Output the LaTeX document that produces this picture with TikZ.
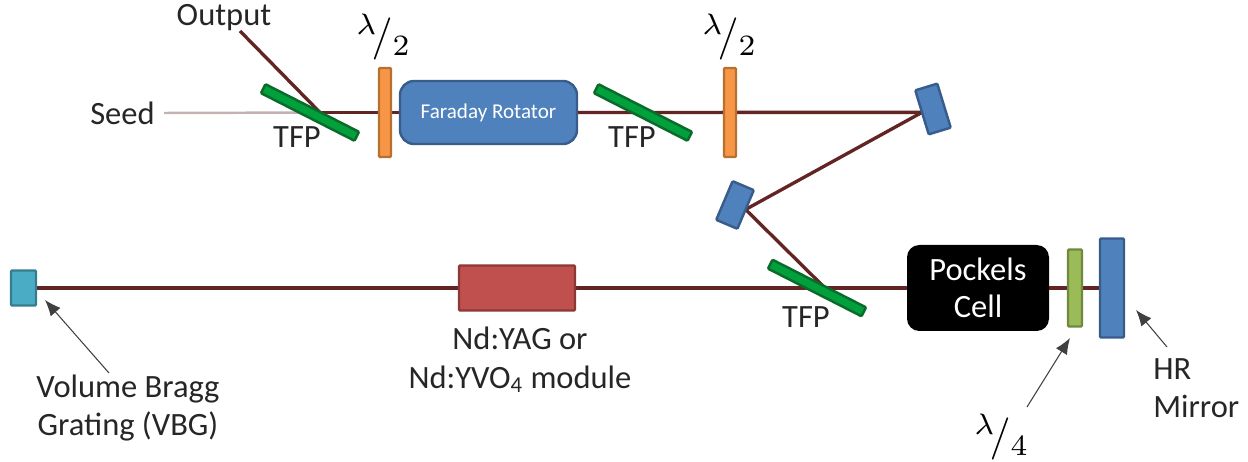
\documentclass[tikz,border=0pt]{standalone}
\usepackage{amsmath}
\usepackage{fontspec}
\setmainfont{Carlito}
\usetikzlibrary{positioning}
\usetikzlibrary{arrows.meta}
\usetikzlibrary{backgrounds}

\definecolor{beamred}{HTML}{632523}
\definecolor{seedgrey}{HTML}{C4B2B2}
\definecolor{arrowgrey}{HTML}{404040}
\definecolor{tfpfill}{HTML}{00A03C}
\definecolor{tfpline}{HTML}{0B6B2A}
\definecolor{halffill}{HTML}{F79646}
\definecolor{halfline}{HTML}{B7702F}
\definecolor{bluefill}{HTML}{4F81BD}
\definecolor{blueline}{HTML}{385D8A}
\definecolor{quartfill}{HTML}{9BBB59}
\definecolor{quartline}{HTML}{71893F}
\definecolor{yagfill}{HTML}{C0504D}
\definecolor{yagline}{HTML}{8C3836}
\definecolor{vbgfill}{HTML}{4BACC6}
\definecolor{vbgline}{HTML}{357D91}

\tikzset{
    optic/.style={draw, line width=1.4pt, inner sep=0pt, outer sep=0pt, rounded corners=0.6pt},
    tfpplate/.style={optic, draw=tfpline, fill=tfpfill, minimum width=2.1cm, minimum height=0.2cm},
    halfplate/.style={optic, draw=halfline, fill=halffill, minimum width=0.24cm, minimum height=1.78cm},
    bluemirror/.style={optic, draw=blueline, fill=bluefill},
    beam/.style={draw=beamred, line width=1.9pt},
    pointer/.style={draw=arrowgrey, line width=0.6pt, -{Latex[length=3.2mm,width=2.6mm]}},
    lbl/.style={font=\fontsize{18.5}{22}\selectfont, text=black!85, inner sep=0pt, align=center},
    platelbl/.style={scale=2.4, inner sep=0pt},
}

\begin{document}
\begin{tikzpicture}[node distance=1cm,auto]
    \useasboundingbox (0,0) rectangle (24.96,9.24);

    % upper row
    \node[tfpplate, rotate=-27] (tfpa) at (6.2,6.99) {};
    \coordinate[right=0.2cm of tfpa.center] (hita);
    \node[halfplate] (hwpa) at (7.7,6.99) {};
    \node[bluemirror, rounded corners=8pt, minimum width=3.54cm, minimum height=1.26cm,
        right=0.18cm of hwpa, text=white, font=\fontsize{12}{14}\selectfont] (faraday) {Faraday Rotator};
    \node[tfpplate, rotate=-27, right=1.32cm of faraday, anchor=center] (tfpb) {};
    \node[halfplate, right=1.74cm of tfpb.center, anchor=center] (hwpb) {};
    \node[bluemirror, rotate=17, minimum width=0.46cm, minimum height=0.92cm] (mirrora) at (18.66,7.06) {};
    \node[bluemirror, rotate=-23, minimum width=0.46cm, minimum height=0.84cm] (mirrorb) at (14.7,5.14) {};

    % lower row
    \node[optic, draw=vbgline, fill=vbgfill, minimum width=0.5cm, minimum height=0.7cm] (vbg) at (0.47,3.48) {};
    \node[optic, draw=yagline, fill=yagfill, minimum width=2.32cm, minimum height=0.9cm] (yag) at (10.34,3.48) {};
    \node[tfpplate, rotate=-27] (tfpc) at (16.34,3.48) {};
    \coordinate[right=0.16cm of tfpc.center] (hitc);
    \node[fill=black, text=white, rounded corners=7pt, inner sep=0pt, outer sep=0pt, align=center, minimum width=2.84cm, minimum height=1.72cm,
        right=1.8cm of tfpc.center, font=\fontsize{18.5}{21}\selectfont] (pockels) {Pockels\\Cell};
    \node[optic, draw=quartline, fill=quartfill, minimum width=0.28cm, minimum height=1.54cm, right=0.38cm of pockels] (qwp) {};
    \node[bluemirror, minimum width=0.48cm, minimum height=1.98cm, right=0.36cm of qwp] (hr) {};

    % labels
    \node[lbl, anchor=east] (seed) at (3.1,6.98) {Seed};
    \node[lbl] (output) at (4.48,8.88) {Output};
    \coordinate (outputend) at (4.8,8.62);
    \node[lbl] (tfpat) at (5.94,6.5) {TFP};
    \node[lbl] (tfpbt) at (12.64,6.5) {TFP};
    \node[lbl] (tfpct) at (16.12,2.9) {TFP};
    \node[platelbl] (hwpat) at (7.68,8.5) {$^{\lambda}\!/_{2}$};
    \node[platelbl] (hwpbt) at (14.6,8.5) {$^{\lambda}\!/_{2}$};
    \node[platelbl] (qwpt) at (20.04,0.5) {$^{\lambda}\!/_{4}$};
    \node[lbl] (vbgt) at (2.56,1.08) {Volume Bragg\\Grating (VBG)};
    \node[lbl, below=0.32cm of yag, xshift=0.06cm] (yagt) {Nd:YAG or\\Nd:YVO\textsubscript{4} module};
    \node[lbl, align=left, anchor=north west] (hrt) at (23.06,2.08) {HR\\Mirror};

    \coordinate (vbgtail) at (2.18,1.78);
    \coordinate (vbgtip) at (0.9,3.24);
    \coordinate (qwptail) at (20.54,1.1);
    \coordinate (qwptip) at (21.4,2.48);
    \coordinate (hrtail) at (23.34,2.3);
    \coordinate (hrtip) at (22.72,3.04);

    \begin{scope}[on background layer]
        \draw[draw=seedgrey, line width=1.4pt] ([xshift=0.18cm]seed.east) -- (hita);
        \draw[beam] (hita) -- (faraday);
        \draw[beam] (hita) -- (outputend);
        \draw[beam] (faraday) -- (mirrora.west);
        \draw[beam] (mirrora.west) -- (mirrorb.east);
        \draw[beam] (mirrorb.east) -- (hitc);
        \draw[beam] (vbg) -- (pockels);
        \draw[beam] (pockels) -- (hr);
    \end{scope}

    \draw[pointer] (vbgtail) -- (vbgtip);
    \draw[pointer] (qwptail) -- (qwptip);
    \draw[pointer] (hrtail) -- (hrtip);
\end{tikzpicture}
\end{document}
